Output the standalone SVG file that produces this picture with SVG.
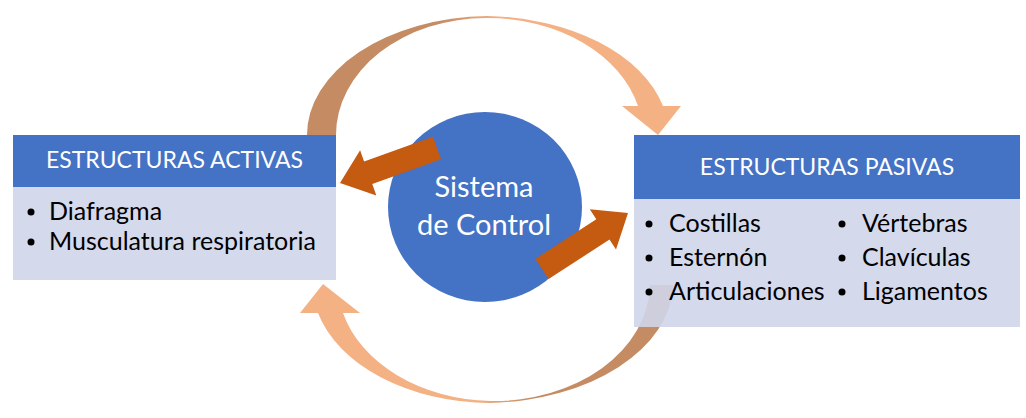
<svg xmlns="http://www.w3.org/2000/svg" width="1026" height="418" viewBox="0 0 1026 418">
  <defs>
    <linearGradient id="gTop" gradientUnits="userSpaceOnUse" x1="440" y1="0" x2="500" y2="0">
      <stop offset="0" stop-color="#C58C64"/>
      <stop offset="1" stop-color="#F4B183"/>
    </linearGradient>
    <linearGradient id="gBot" gradientUnits="userSpaceOnUse" x1="475" y1="0" x2="530" y2="0">
      <stop offset="0" stop-color="#F4B183"/>
      <stop offset="1" stop-color="#C58C64"/>
    </linearGradient>
  </defs>
  <style>
    .hdr { fill: #4472C4; }
    .body { fill: #CFD5EA; fill-opacity: 0.9; }
    .htxt { font-family: Lato, "Liberation Sans", sans-serif; font-size: 23px; fill: #FFFFFF; text-anchor: middle; }
    .btxt { font-family: Lato, "Liberation Sans", sans-serif; font-size: 25px; fill: #000000; }
    .ctxt { font-family: Lato, "Liberation Sans", sans-serif; font-size: 29px; fill: #FFFFFF; text-anchor: middle; }
    .dot { fill: #000000; }
    .arr { fill: #C55A11; }
  </style>
  <rect width="1026" height="418" fill="#FFFFFF"/>

  <g id="connectors">
    <path id="curve-top" fill="url(#gTop)" d="M 307,136 A 185,119 0 0 1 487,16 A 186,119 0 0 1 663,106 L 681,106 L 658,135 L 622,106 L 638,106 A 155,117 0 0 0 487,18 A 150,117 0 0 0 336,136 Z"/>
    <path id="curve-bottom" fill="url(#gBot)" d="M 673,285 A 190,120 0 0 1 490,403 A 180,120 0 0 1 318,313 L 300,313 L 323,284 L 360,313 L 343,313 A 158,118 0 0 0 490,401 A 156,118 0 0 0 650,285 Z"/>
  </g>

  <g id="activas">
    <rect class="hdr" x="13" y="135" width="323" height="52"/>
    <rect class="body" x="13" y="187" width="323" height="93"/>
    <text class="htxt" x="174.5" y="168">ESTRUCTURAS ACTIVAS</text>
    <circle class="dot" cx="31" cy="212" r="3.5"/>
    <text class="btxt" x="49" y="220">Diafragma</text>
    <circle class="dot" cx="31" cy="242" r="3.5"/>
    <text class="btxt" x="49" y="250">Musculatura respiratoria</text>
  </g>

  <g id="pasivas">
    <rect class="hdr" x="634" y="135" width="386" height="64"/>
    <rect class="body" x="634" y="199" width="386" height="128"/>
    <text class="htxt" x="827" y="175">ESTRUCTURAS PASIVAS</text>
    <circle class="dot" cx="649" cy="224" r="3.5"/>
    <text class="btxt" x="669" y="232">Costillas</text>
    <circle class="dot" cx="649" cy="258" r="3.5"/>
    <text class="btxt" x="669" y="266">Esternón</text>
    <circle class="dot" cx="649" cy="292" r="3.5"/>
    <text class="btxt" x="669" y="300">Articulaciones</text>
    <circle class="dot" cx="842" cy="224" r="3.5"/>
    <text class="btxt" x="862" y="232">Vértebras</text>
    <circle class="dot" cx="842" cy="258" r="3.5"/>
    <text class="btxt" x="862" y="266">Clavículas</text>
    <circle class="dot" cx="842" cy="292" r="3.5"/>
    <text class="btxt" x="862" y="300">Ligamentos</text>
  </g>

  <g id="control">
    <ellipse cx="485" cy="207" rx="97" ry="95" fill="#4472C4"/>
    <text class="ctxt" x="484" y="197">Sistema</text>
    <text class="ctxt" x="484" y="235">de Control</text>
  </g>

  <g id="control-arrows">
    <polygon class="arr" points="432.9,136.7 364.1,161.5 360.1,150.2 340,183 376.3,195.4 372.3,184.1 441.1,159.3"/>
    <polygon class="arr" points="548.6,279.1 609.5,239.5 616,249.5 628,213 589.8,209.3 596.3,219.3 535.4,258.9"/>
  </g>
</svg>
